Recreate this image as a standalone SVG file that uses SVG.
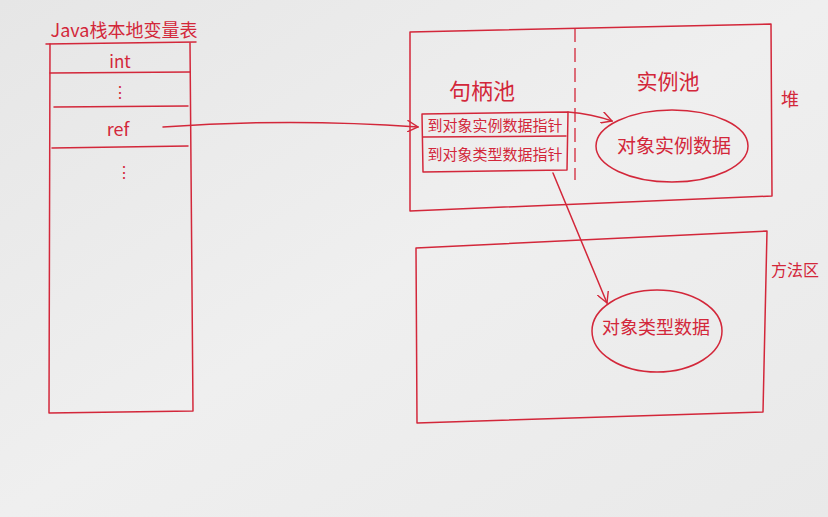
<svg xmlns="http://www.w3.org/2000/svg" width="828" height="517" viewBox="0 0 828 517">
<defs>
<linearGradient id="bg" x1="0" y1="0" x2="1" y2="1">
<stop offset="0" stop-color="#e6e6e6"/>
<stop offset="0.5" stop-color="#efefef"/>
<stop offset="1" stop-color="#e9e9e9"/>
</linearGradient>
<marker id="arr" viewBox="0 0 12 12" refX="11" refY="6" markerWidth="12" markerHeight="12" markerUnits="userSpaceOnUse" orient="auto">
<path d="M0,0 L11,6 L0,12" fill="none" stroke="#d3273a" stroke-width="1.4"/>
</marker>
</defs>
<style>
.ln{fill:none;stroke:#d3273a;stroke-width:1.5;stroke-linecap:round;stroke-linejoin:round}
.dash{fill:none;stroke:#d3273a;stroke-width:1.3;stroke-dasharray:14 6}
.t{fill:#d3273a;font-family:"Noto Sans CJK SC","Noto Sans",sans-serif;text-anchor:middle}
</style>
<rect width="828" height="517" fill="url(#bg)"/>
<g id="stack">
<text class="t" x="124" y="37" font-size="18">Java栈本地变量表</text>
<path class="ln" d="M46,44 L196,42"/>
<path class="ln" d="M50,44 L49,413 L193,411 L190,43"/>
<path class="ln" d="M50,73 L190,72"/>
<path class="ln" d="M54,107 L188,106"/>
<path class="ln" d="M52,148 L188,146"/>
<text class="t" x="120" y="68" font-size="17">int</text>
<text class="t" x="120" y="98" font-size="16">⋮</text>
<text class="t" x="118" y="136" font-size="18">ref</text>
<text class="t" x="124" y="178" font-size="16">⋮</text>
</g>
<g id="heap">
<path class="ln" d="M410,32 L771,24 L772,196 L410,211 Z"/>
<path class="dash" d="M575,28 L575,180"/>
<text class="t" x="482" y="99" font-size="22">句柄池</text>
<text class="t" x="668" y="89" font-size="21">实例池</text>
<text class="t" x="790" y="106" font-size="18">堆</text>
</g>
<g id="handle">
<path class="ln" d="M422,114 L568,112 L567,170 L423,172 Z"/>
<path class="ln" d="M423,137 L566,136"/>
<text class="t" x="495" y="131" font-size="15">到对象实例数据指针</text>
<text class="t" x="495" y="160" font-size="15">到对象类型数据指针</text>
</g>
<g id="instance">
<ellipse class="ln" cx="672" cy="146" rx="76" ry="36"/>
<text class="t" x="674" y="153" font-size="19">对象实例数据</text>
</g>
<g id="method">
<path class="ln" d="M416,248 L767,231 L763,412 L417,423 Z"/>
<text class="t" x="795" y="276" font-size="16">方法区</text>
</g>
<g id="typedata">
<ellipse class="ln" cx="657" cy="331" rx="65" ry="41"/>
<text class="t" x="656" y="334" font-size="18">对象类型数据</text>
</g>
<g id="connectors">
<path class="ln" d="M163,127 Q290,118 418,127" marker-end="url(#arr)"/>
<path class="ln" d="M568,112 Q592,114 612,121" marker-end="url(#arr)"/>
<path class="ln" d="M553,173 L607,303" marker-end="url(#arr)"/>
</g>
</svg>
